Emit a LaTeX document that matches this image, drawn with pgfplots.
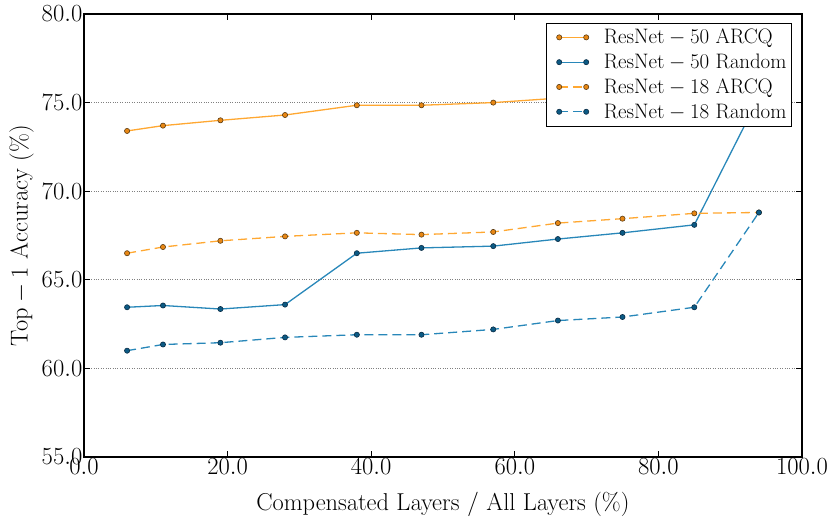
\documentclass[border=0pt]{standalone}
\usepackage{fix-cm}
\usepackage{pgfplots}
\pgfplotsset{compat=1.18}
\definecolor{oline}{RGB}{255,168,50}
\definecolor{ofill}{RGB}{232,135,20}
\definecolor{oedge}{RGB}{90,60,20}
\definecolor{bline}{RGB}{40,135,185}
\definecolor{bfill}{RGB}{12,90,132}
\definecolor{bedge}{RGB}{10,45,70}
\begin{document}
\begin{tikzpicture}
\begin{axis}[
  scale only axis,
  width=718bp, height=443bp,
  xmin=0, xmax=100, ymin=55, ymax=80,
  xtick={0,20,40,60,80,100},
  ytick={55,60,65,70,75,80},
  xticklabel style={/pgf/number format/.cd,fixed,fixed zerofill,precision=1},
  yticklabel style={/pgf/number format/.cd,fixed,fixed zerofill,precision=1},
  tick label style={font=\fontsize{24.7}{29}\selectfont, inner sep=1.5bp},
  tick align=inside,
  major tick length=6bp,
  tick style={black, line width=0.8bp},
  axis line style={black, line width=1.2bp},
  ymajorgrids,
  major grid style={gray, dotted, line width=0.8bp},
  xlabel={$\mathrm{Compensated\ Layers\ /\ All\ Layers\ (\%)}$},
  ylabel={$\mathrm{Top-1\ Accuracy\ (\%)}$},
  every axis x label/.style={at={(axis description cs:0.5,0)}, anchor=base, yshift=-53bp, font=\fontsize{24.5}{29}\selectfont, inner sep=0pt},
  every axis y label/.style={at={(axis description cs:-0.0696,0.5)}, anchor=south, rotate=90, font=\fontsize{24.5}{29}\selectfont, inner sep=0pt},
  legend style={at={(axis description cs:0.986,0.980)}, anchor=north east, draw=black, line width=0.8bp, fill=white,
    inner xsep=3bp, inner ysep=3bp, row sep=2.5bp,
    nodes={inner ysep=3.2bp},
    font=\fontsize{21}{25}\selectfont},
  legend cell align=left,
  legend image code/.code={\path (-9bp,0bp); \draw[#1, mark repeat=2, mark phase=1] plot coordinates {(0bp,0bp) (13.5bp,0bp) (27bp,0bp)}; \path (42bp,0bp);},
  every axis plot/.append style={line width=1.3bp, mark=*, mark size=2.6bp},
]
\addplot[color=oline, mark options={solid, fill=ofill, draw=oedge, line width=0.6bp}] coordinates {
(6,73.4) (11,73.7) (19,74.0) (28,74.3) (38,74.85) (47,74.85) (57,75.0) (66,75.25) (75,75.45) (85,75.65) (94,75.85)};
\addlegendentry{$\mathrm{ResNet-50\ ARCQ}$}
\addplot[color=bline, mark options={solid, fill=bfill, draw=bedge, line width=0.6bp}] coordinates {
(6,63.45) (11,63.55) (19,63.35) (28,63.6) (38,66.5) (47,66.8) (57,66.9) (66,67.3) (75,67.65) (85,68.1) (94,75.3)};
\addlegendentry{$\mathrm{ResNet-50\ Random}$}
\addplot[color=oline, dash pattern=on 9bp off 5bp, mark options={solid, fill=ofill, draw=oedge, line width=0.6bp}] coordinates {
(6,66.5) (11,66.85) (19,67.2) (28,67.45) (38,67.65) (47,67.55) (57,67.7) (66,68.2) (75,68.45) (85,68.75) (94,68.8)};
\addlegendentry{$\mathrm{ResNet-18\ ARCQ}$}
\addplot[color=bline, dash pattern=on 9bp off 5bp, mark options={solid, fill=bfill, draw=bedge, line width=0.6bp}] coordinates {
(6,61.0) (11,61.35) (19,61.45) (28,61.75) (38,61.9) (47,61.9) (57,62.2) (66,62.7) (75,62.9) (85,63.45) (94,68.8)};
\addlegendentry{$\mathrm{ResNet-18\ Random}$}
\end{axis}
\pgfresetboundingbox
\path ([shift={(-84bp,-60bp)}]current axis.south west) rectangle ([shift={(29bp,14bp)}]current axis.north east);
\end{tikzpicture}
\end{document}
